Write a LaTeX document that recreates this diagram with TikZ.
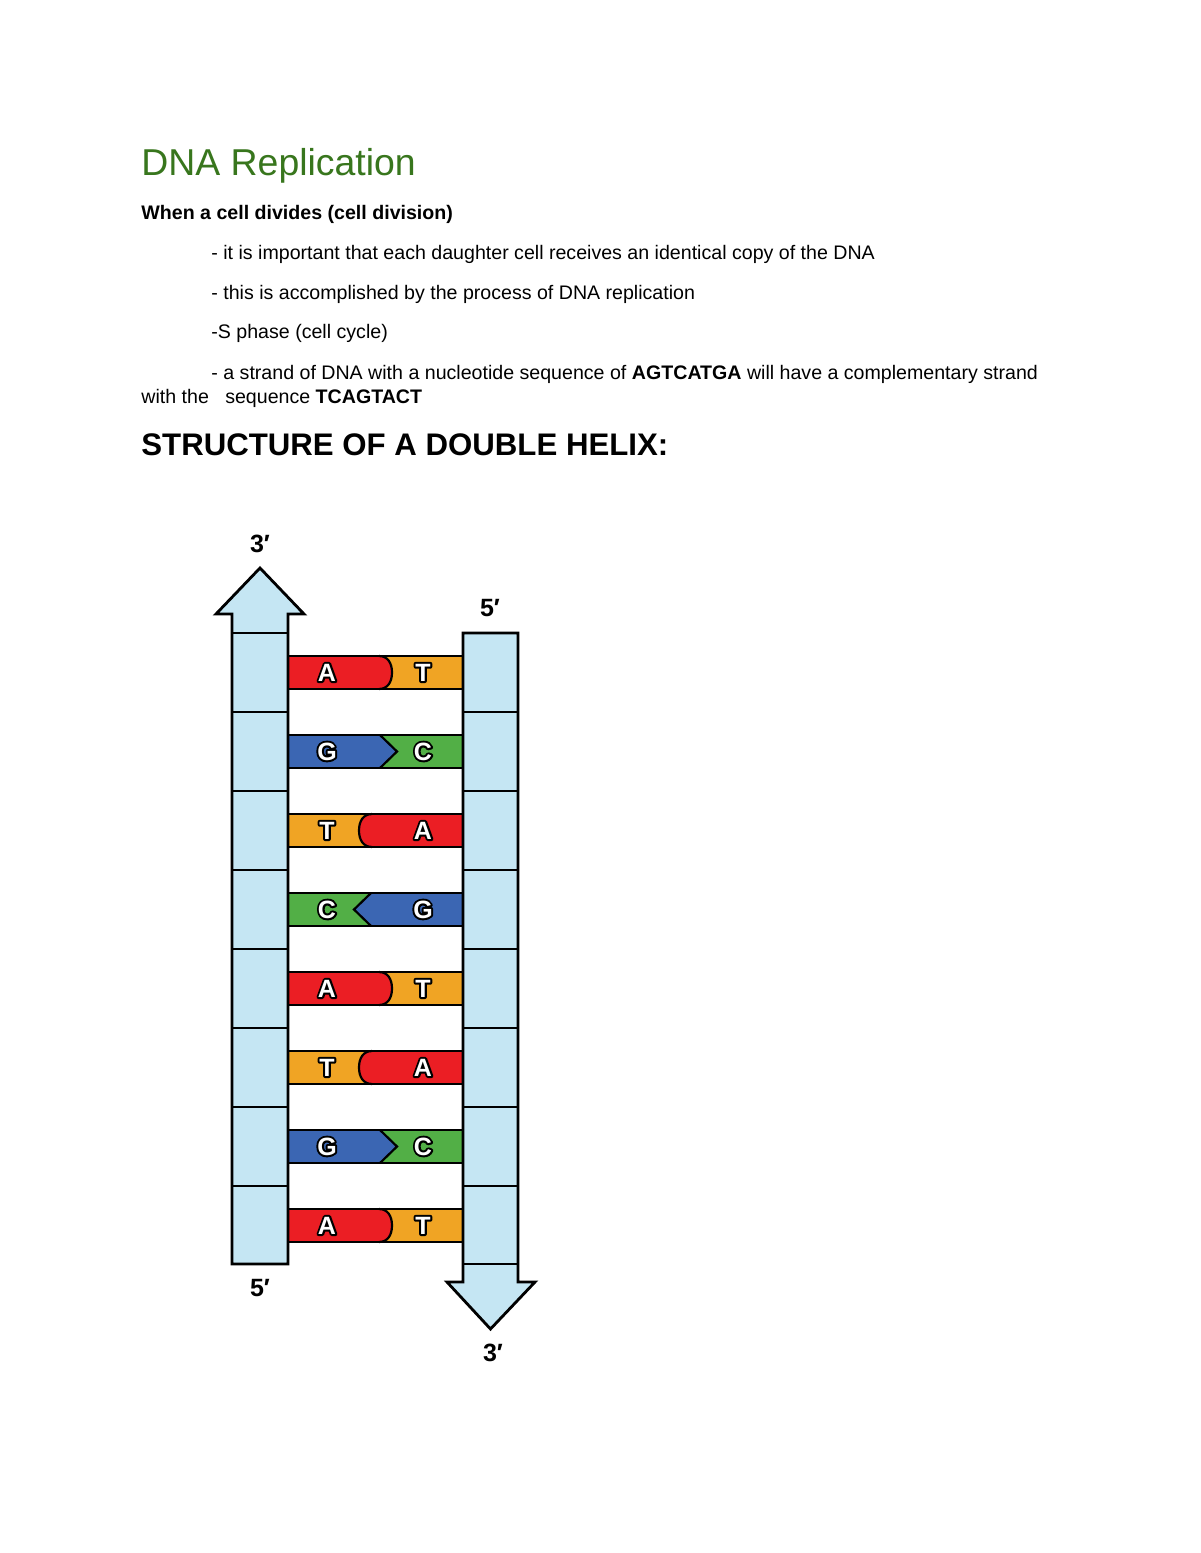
\documentclass[tikz,border=0pt]{standalone}
\usepackage{fontspec}
\setmainfont{Liberation Sans}
\usetikzlibrary{calc}
\definecolor{titlegreen}{HTML}{38761D}
\definecolor{strandblue}{HTML}{C5E6F3}
\definecolor{baseA}{HTML}{EB1E24}
\definecolor{baseT}{HTML}{F0A424}
\definecolor{baseG}{HTML}{3B66B3}
\definecolor{baseC}{HTML}{52AF46}
\tikzset{
  bodytext/.style={anchor=base west, inner sep=0pt, font=\fontsize{9.8}{12}\selectfont},
  baselabel/.style={text=white, inner sep=0pt, font=\fontsize{12.5}{14}\selectfont\bfseries},
  endlabel/.style={inner sep=0pt, font=\fontsize{12.5}{14}\selectfont\bfseries}
}
% white letter with a black rim (stroked copy under the filled one)
\newcommand{\rimmed}[1]{\rlap{\special{pdf:literal direct 0 0 0 RG 2 w 1 j 1 Tr}#1\special{pdf:literal direct 0 Tr}}#1}
\newcommand{\strandcell}[2]{ \draw[line width=1.2pt] ( #1 , #2 ) -- ( #1+56 , #2 );}
\newcommand{\roundright}{(379,-16.5) .. controls (388,-16.5) and (392,-9) .. (392,0) .. controls (392,9) and (388,16.5) .. (379,16.5)}
\newcommand{\roundleft}{(372,-16.5) .. controls (363,-16.5) and (359,-9) .. (359,0) .. controls (359,9) and (363,16.5) .. (372,16.5)}
\newcommand{\pointright}{(380,-16.5) -- (397,0) -- (380,16.5)}
\newcommand{\pointleft}{(371,-16.5) -- (354,0) -- (371,16.5)}
\newcommand{\rung}[7]{
  \begin{scope}[shift={(0,#2)}]
    \fill[#4] (288,-16.5) rectangle (463,16.5);
    \fill[#3] (288,-16.5) -- #7 -- (288,16.5) -- cycle;
    \draw[line width=1.1pt] #7;
    \draw[line width=1.2pt] (288,-16.5) rectangle (463,16.5);
    \node[baselabel] (#1l) at (327,0) {\rimmed{#5}};
    \node[baselabel] (#1r) at (423,0) {\rimmed{#6}};
  \end{scope}}
\begin{document}
\begin{tikzpicture}[x=0.5pt,y=-0.5pt]
        \fill[white] (0,0) rectangle (1200,1553);
        \useasboundingbox (0,0) rectangle (1200,1553);

        % heading text
        \node[bodytext, font=\fontsize{18.7}{22}\selectfont, text=titlegreen] (title) at (141,175) {DNA Replication};
        \node[bodytext, font=\fontsize{9.8}{12}\selectfont\bfseries] (intro) at (141,219) {When a cell divides (cell division)};
        \node[bodytext] (line1) at (211,259) {- it is important that each daughter cell receives an identical copy of the DNA};
        \node[bodytext] (line2) at (211,299) {- this is accomplished by the process of DNA replication};
        \node[bodytext] (line3) at (211,338) {-S phase (cell cycle)};
        \node[bodytext] (line4) at (211,379) {- a strand of DNA with a nucleotide sequence of \textbf{AGTCATGA} will have a complementary strand};
        \node[bodytext] (line5) at (141,403) {with the\ \ \ sequence \textbf{TCAGTACT}};
        \node[bodytext, font=\fontsize{15.6}{18}\selectfont\bfseries] (struct) at (141,455) {STRUCTURE OF A DOUBLE HELIX:};

        % rungs
        \rung{p1}{672.5}{baseA}{baseT}{A}{T}{\roundright}
        \rung{p2}{751.5}{baseG}{baseC}{G}{C}{\pointright}
        \rung{p3}{830.5}{baseT}{baseA}{T}{A}{\roundleft}
        \rung{p4}{909.5}{baseC}{baseG}{C}{G}{\pointleft}
        \rung{p5}{988.5}{baseA}{baseT}{A}{T}{\roundright}
        \rung{p6}{1067.5}{baseT}{baseA}{T}{A}{\roundleft}
        \rung{p7}{1146.5}{baseG}{baseC}{G}{C}{\pointright}
        \rung{p8}{1225.5}{baseA}{baseT}{A}{T}{\roundright}

        % left strand
        \draw[line width=1.4pt, fill=strandblue, line join=miter] (232,1264) -- (232,614) -- (216,614) -- (260,568) -- (304,614) -- (288,614) -- (288,1264) -- cycle;
        \strandcell{232}{633}
        \strandcell{232}{712}
        \strandcell{232}{791}
        \strandcell{232}{870}
        \strandcell{232}{949}
        \strandcell{232}{1028}
        \strandcell{232}{1107}
        \strandcell{232}{1186}

        % right strand
        \draw[line width=1.4pt, fill=strandblue, line join=miter] (463,633) -- (463,1282) -- (447,1282) -- (490.5,1329) -- (535,1282) -- (518,1282) -- (518,633) -- cycle;
        \strandcell{463}{712}
        \strandcell{463}{791}
        \strandcell{463}{870}
        \strandcell{463}{949}
        \strandcell{463}{1028}
        \strandcell{463}{1107}
        \strandcell{463}{1186}
        \strandcell{463}{1264}

        % ends
        \node[endlabel] (lefttop) at (260,544) {3′};
        \node[endlabel] (righttop) at (490,608) {5′};
        \node[endlabel] (leftbot) at (260,1288) {5′};
        \node[endlabel] (rightbot) at (493,1353) {3′};

    \end{tikzpicture}
\end{document}
